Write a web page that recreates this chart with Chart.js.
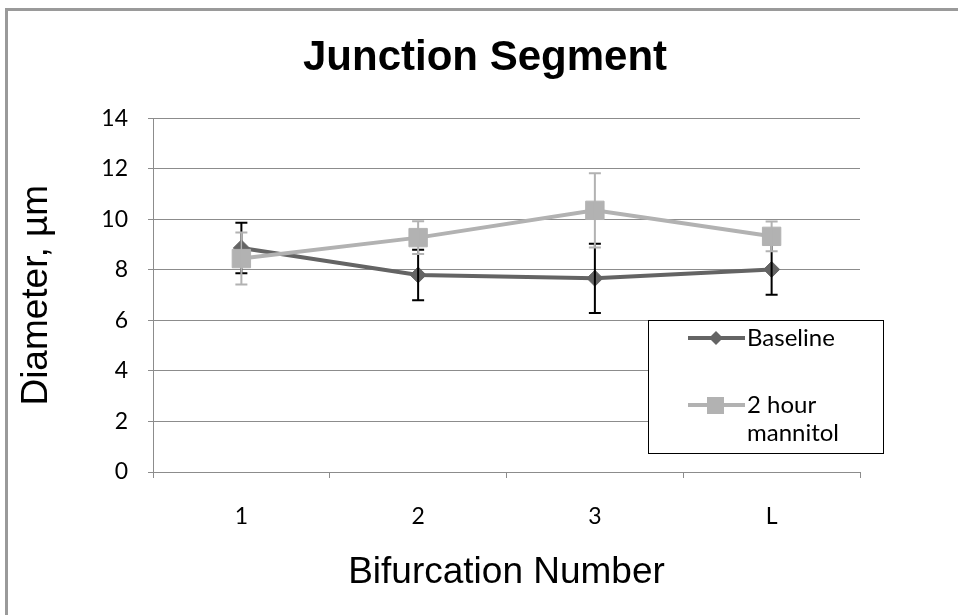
<!DOCTYPE html>
<html>
<head>
  <title>Junction Segment</title>
  <script src="https://cdn.jsdelivr.net/npm/chart.js"></script>
  <style>
    body { margin: 0; background: #fff; }
  </style>
</head>
<body>
  <canvas id="junctionChart" width="958" height="615"></canvas>

  <script>
    const categories = ['1', '2', '3', 'L'];
    const baseline = [8.87, 7.8, 7.67, 8.02];
    const baselineErr = [1.0, 1.0, 1.37, 1.0];
    const mannitol = [8.45, 9.28, 10.36, 9.33];
    const mannitolErr = [1.03, 0.65, 1.47, 0.59];
    const seriesNames = ['Baseline', '2 hour mannitol'];

    const darkGrey = '#646464';
    const lightGrey = '#b2b2b2';
    const gridGrey = '#8c8c8c';
    const tickFont = { family: 'Lato', size: 23 };

    // outer frame (only top and left edge are visible in the picture)
    const framePlugin = {
      id: 'frame',
      beforeDraw(chart) {
        const ctx = chart.ctx;
        ctx.save();
        ctx.fillStyle = '#fff';
        ctx.fillRect(0, 0, chart.width, chart.height);
        ctx.fillStyle = '#9a9a9a';
        ctx.fillRect(5, 8, chart.width - 5, 3);
        ctx.fillRect(5, 8, 3, chart.height - 8);
        ctx.restore();
      }
    };

    // error bars, drawn right after their own series
    const errorBarPlugin = {
      id: 'errorBars',
      afterDatasetDraw(chart, args) {
        const ds = chart.data.datasets[args.index];
        if (!ds.errors) return;
        const ctx = chart.ctx;
        const x = chart.scales.x, y = chart.scales.y;
        ctx.save();
        ctx.strokeStyle = ds.errorColor;
        ctx.lineWidth = 2;
        ds.data.forEach((v, i) => {
          const px = x.getPixelForValue(i);
          const top = y.getPixelForValue(v + ds.errors[i]);
          const bot = y.getPixelForValue(v - ds.errors[i]);
          ctx.beginPath();
          ctx.moveTo(px, top); ctx.lineTo(px, bot);
          ctx.moveTo(px - 6, top); ctx.lineTo(px + 6, top);
          ctx.moveTo(px - 6, bot); ctx.lineTo(px + 6, bot);
          ctx.stroke();
        });
        ctx.restore();
      }
    };

    // boxed legend sitting inside the plot area
    const boxLegendPlugin = {
      id: 'boxLegend',
      afterDraw(chart) {
        const ctx = chart.ctx;
        const bx = 648, by = 320, bw = 235, bh = 133;
        ctx.save();
        ctx.fillStyle = '#fff';
        ctx.fillRect(bx, by, bw, bh);
        ctx.strokeStyle = '#000';
        ctx.lineWidth = 1;
        ctx.strokeRect(bx + 0.5, by + 0.5, bw, bh);

        ctx.font = '24px Lato';
        ctx.fillStyle = '#000';
        ctx.textBaseline = 'middle';

        // Baseline
        ctx.strokeStyle = darkGrey;
        ctx.lineWidth = 4;
        ctx.beginPath();
        ctx.moveTo(688, 338); ctx.lineTo(745, 338);
        ctx.stroke();
        ctx.fillStyle = darkGrey;
        ctx.beginPath();
        ctx.moveTo(716, 331); ctx.lineTo(723, 338); ctx.lineTo(716, 345); ctx.lineTo(709, 338);
        ctx.closePath();
        ctx.fill();
        ctx.fillStyle = '#000';
        ctx.fillText(seriesNames[0], 747, 338);

        // 2 hour mannitol
        ctx.strokeStyle = lightGrey;
        ctx.beginPath();
        ctx.moveTo(688, 405); ctx.lineTo(745, 405);
        ctx.stroke();
        ctx.fillStyle = lightGrey;
        ctx.fillRect(707, 397, 17, 17);
        ctx.fillStyle = '#000';
        ctx.fillText('2 hour', 747, 405);
        ctx.fillText('mannitol', 747, 433);
        ctx.restore();
      }
    };

    new Chart(document.getElementById('junctionChart'), {
      type: 'line',
      data: {
        labels: categories,
        datasets: [
          {
            label: seriesNames[0],
            data: baseline,
            errors: baselineErr,
            errorColor: '#000',
            borderColor: darkGrey,
            backgroundColor: darkGrey,
            borderWidth: 4,
            pointStyle: 'rectRot',
            pointRadius: 8,
            pointBorderWidth: 1,
            tension: 0,
            order: 1
          },
          {
            label: seriesNames[1],
            data: mannitol,
            errors: mannitolErr,
            errorColor: lightGrey,
            borderColor: lightGrey,
            backgroundColor: lightGrey,
            borderWidth: 4,
            pointStyle: 'rect',
            pointRadius: 13,
            pointBorderWidth: 1,
            tension: 0,
            order: 0
          }
        ]
      },
      options: {
        responsive: false,
        animation: false,
        layout: { padding: { left: 12, right: 0, top: 0, bottom: 0 } },
        plugins: {
          legend: { display: false },
          tooltip: { enabled: false },
          title: {
            display: true,
            text: 'Junction Segment',
            color: '#000',
            font: { family: 'Liberation Sans', size: 42, weight: 'bold', lineHeight: 1.2 },
            padding: { top: 33, bottom: 35 }
          }
        },
        scales: {
          x: {
            offset: true,
            grid: { drawOnChartArea: false, offset: true, tickLength: 6, color: gridGrey },
            border: { color: gridGrey },
            ticks: { color: '#000', font: tickFont, padding: 25 },
            title: {
              display: true,
              text: 'Bifurcation Number',
              color: '#000',
              font: { family: 'Liberation Sans', size: 37, lineHeight: 1.2 },
              padding: { top: 0, bottom: 20 }
            },
            afterFit(s) { s.height = 143; }
          },
          y: {
            min: 0,
            max: 14,
            ticks: { stepSize: 2, color: '#000', font: tickFont, padding: 20 },
            grid: { color: gridGrey, tickLength: 5 },
            border: { color: gridGrey },
            title: {
              display: true,
              text: 'Diameter, µm',
              color: '#000',
              font: { family: 'Liberation Sans', size: 37, lineHeight: 1.2 },
              padding: { top: 3, bottom: 0 }
            },
            afterFit(s) { s.width = 141; }
          },
          yPad: {
            position: 'right',
            grid: { display: false },
            border: { display: false },
            ticks: { display: false },
            afterFit(s) { s.width = 98; }
          }
        }
      },
      plugins: [framePlugin, errorBarPlugin, boxLegendPlugin]
    });
  </script>
</body>
</html>
